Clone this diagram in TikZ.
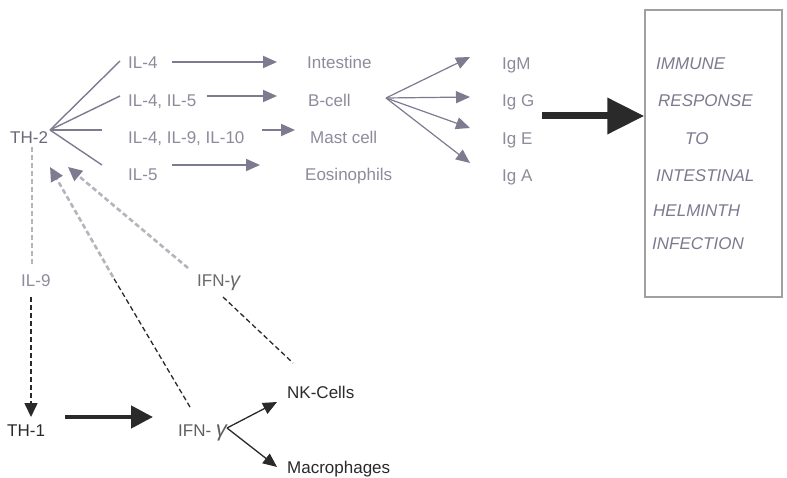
\documentclass[tikz,border=0pt]{standalone}
\usepackage{fontspec}
\setmainfont{Liberation Sans}
\usetikzlibrary{arrows.meta}
\definecolor{topgray}{HTML}{7C7B90}
\definecolor{toptext}{HTML}{8C8C9C}
\definecolor{lightdash}{HTML}{B4B4BC}
\definecolor{boxline}{HTML}{A0A0A0}
\definecolor{ink}{HTML}{2A2A2A}
\tikzset{
  lbl/.style={anchor=west, inner sep=0pt, text height=12.5pt, text depth=0pt, font=\fontsize{17}{20}\selectfont},
  toplbl/.style={lbl, text=toptext},
  boxlbl/.style={lbl, text=topgray, font=\fontsize{17}{20}\selectfont\itshape},
  darklbl/.style={lbl, text=ink},
  graylbl/.style={lbl, text=toptext},
  branch/.style={draw=topgray, line width=1.4pt},
  toparrow/.style={draw=topgray, line width=2pt, -{Triangle[length=14pt,width=12pt]}, color=topgray},
  fanarrow/.style={draw=topgray, line width=1.2pt, -{Triangle[length=14pt,width=12pt]}, color=topgray},
  bigarrow/.style={draw=ink, line width=7pt, -{Triangle[length=37pt,width=35pt]}, color=ink},
  midarrow/.style={draw=ink, line width=4.5pt, -{Triangle[length=22pt,width=22pt]}, color=ink},
  blackarrow/.style={draw=ink, line width=1.3pt, -{Triangle[length=14pt,width=12pt]}, color=ink},
  blackdash/.style={draw=ink, line width=1.3pt, dash pattern=on 5pt off 3pt},
  graydash/.style={draw=lightdash, line width=2.6pt, dash pattern=on 5pt off 3pt},
  grayhead/.style={-{Triangle[length=14pt,width=13pt,fill=topgray,color=topgray]}},
}
\begin{document}
\begin{tikzpicture}[x=1pt,y=-1pt]
\useasboundingbox (0,0) rectangle (787,478);
\fill[white] (0,0) rectangle (787,478);

% top left
\node[lbl, text=topgray!85!black] (th2) at (10,137) {TH-2};
\coordinate (f2) at (50,130);
\node[toplbl] (il4a) at (128,62) {IL-4};
\node[toplbl] (il45) at (128,100) {IL-4, IL-5};
\node[toplbl] (il4910) at (128,137) {IL-4, IL-9, IL-10};
\node[toplbl] (il5) at (128,174) {IL-5};
\coordinate (e1) at (120,61);
\coordinate (e2) at (120,96);
\coordinate (e3) at (102,130);
\coordinate (e4) at (102,165);
\draw[branch] (f2) -- (e1);
\draw[branch] (f2) -- (e2);
\draw[branch] (f2) -- (e3);
\draw[branch] (f2) -- (e4);

\node[toplbl] (intes) at (307,62) {Intestine};
\node[toplbl] (bcell) at (308,100) {B-cell};
\node[toplbl] (mast) at (310,137) {Mast cell};
\node[toplbl] (eos) at (305,174) {Eosinophils};

\coordinate (a1s) at (172,62);  \coordinate (a1e) at (277,62);
\coordinate (a2s) at (207,96);  \coordinate (a2e) at (277,96);
\coordinate (a3s) at (262,130); \coordinate (a3e) at (295,130);
\coordinate (a4s) at (172,165); \coordinate (a4e) at (260,165);
\draw[toparrow] (a1s) -- (a1e);
\draw[toparrow] (a2s) -- (a2e);
\draw[toparrow] (a3s) -- (a3e);
\draw[toparrow] (a4s) -- (a4e);

% fan from B-cell
\coordinate (bf) at (386,98);
\node[toplbl] (igm) at (502,63) {IgM};
\node[toplbl] (igg) at (502,100) {Ig G};
\node[toplbl] (ige) at (502,138) {Ig E};
\node[toplbl] (iga) at (502,175) {Ig A};
\coordinate (t1) at (470,57);
\coordinate (t2) at (470,97);
\coordinate (t3) at (470,128);
\coordinate (t4) at (470,163);
\draw[fanarrow] (bf) -- (t1);
\draw[fanarrow] (bf) -- (t2);
\draw[fanarrow] (bf) -- (t3);
\draw[fanarrow] (bf) -- (t4);

% box
\node[draw=boxline, line width=1.5pt, minimum width=137pt, minimum height=287pt, inner sep=0pt] (box) at (713.5,153.5) {};
\coordinate (bs) at (542,116);
\draw[bigarrow] (bs) -- (box.west |- bs);
\node[boxlbl] (r1) at (656,63) {IMMUNE};
\node[boxlbl] (r2) at (658,100) {RESPONSE};
\node[boxlbl] (r3) at (685,138) {TO};
\node[boxlbl] (r4) at (656,175) {INTESTINAL};
\node[boxlbl] (r5) at (653,210) {HELMINTH};
\node[boxlbl] (r6) at (652,243) {INFECTION};

% bottom
\node[graylbl] (il9) at (21,280) {IL-9};
\node[darklbl] (th1) at (7,430) {TH-1};
\node[darklbl, text=ink!75] (ifnb) at (178,430) {IFN- \fontsize{22}{22}\selectfont\itshape γ};
\node[graylbl, text=ink!70] (ifnt) at (197,280) {IFN-\fontsize{20}{20}\selectfont\itshape γ};
\node[darklbl] (nk) at (287,392) {NK-Cells};
\node[darklbl] (mac) at (287,467) {Macrophages};

\coordinate (d1s) at (32,147); \coordinate (d1e) at (32,267);
\draw[graydash] (d1s) -- (d1e);
\coordinate (d2s) at (31,297); \coordinate (d2e) at (31,417);
\draw[blackdash, line width=1.6pt, -{Triangle[length=14pt,width=13pt,fill=ink,color=ink]}] (d2s) -- (d2e);

\coordinate (ta) at (65,417); \coordinate (tb) at (153,417);
\draw[midarrow] (ta) -- (tb);

\coordinate (fk) at (227,428);
\coordinate (nkt) at (277,402);
\coordinate (mact) at (277,467);
\draw[blackarrow] (fk) -- (nkt);
\draw[blackarrow] (fk) -- (mact);

\coordinate (u1) at (223,297); \coordinate (u2) at (293,363);
\draw[blackdash] (u1) -- (u2);

\coordinate (v1) at (190,407); \coordinate (v2) at (113,277); \coordinate (v3) at (50,167);
\draw[blackdash] (v1) -- (v2);
\draw[graydash, grayhead] (v2) -- (v3);

\coordinate (w1) at (188,268); \coordinate (w2) at (68,167);
\draw[graydash, grayhead] (w1) -- (w2);
\end{tikzpicture}
\end{document}
